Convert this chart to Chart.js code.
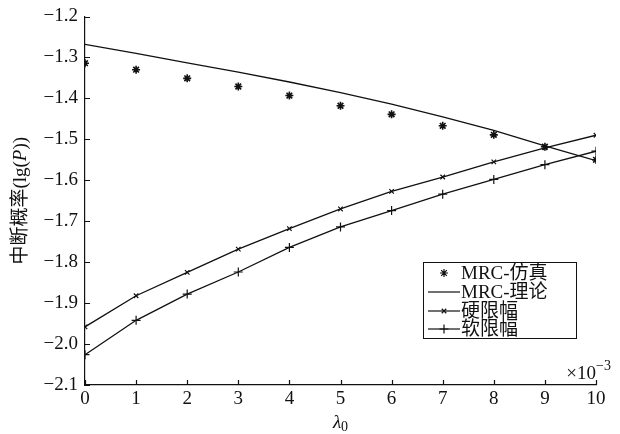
<!DOCTYPE html>
<html><head><meta charset="utf-8">
<script src="https://cdn.jsdelivr.net/npm/chart.js@4/dist/chart.umd.min.js"></script>
<style>html,body{margin:0;padding:0;background:#fff}#c{display:block}</style>
</head><body>
<canvas id="c" width="620" height="434"></canvas>
<script>
// ---- data ----
const lambda0 = [0, 1, 2, 3, 4, 5, 6, 7, 8, 9, 10];
const mrcSim = [-1.314, -1.330, -1.351, -1.371, -1.393, -1.418, -1.439, -1.467, -1.489, -1.518, -1.550];
const mrcTheory = [-1.268, -1.290, -1.313, -1.336, -1.360, -1.386, -1.414, -1.445, -1.478, -1.516, -1.552];
const hardLimiter = [-1.958, -1.882, -1.825, -1.768, -1.718, -1.670, -1.627, -1.592, -1.555, -1.521, -1.490];
const softLimiter = [-2.026, -1.942, -1.878, -1.824, -1.764, -1.714, -1.674, -1.634, -1.598, -1.562, -1.529];
const seriesNames = ['MRC-仿真', 'MRC-理论', '硬限幅', '软限幅'];
const xTicks = [0, 1, 2, 3, 4, 5, 6, 7, 8, 9, 10];
const yTicks = [-2.1, -2.0, -1.9, -1.8, -1.7, -1.6, -1.5, -1.4, -1.3, -1.2];
const yTitleParts = [['中断概率(lg(', false], ['P', true], ['))', false]];
const xTitleMain = 'λ';
const xTitleSub = '0';
const xExpBase = '×10';
const xExpPow = '−3';

const SERIF = '"Liberation Serif", "Times New Roman", "Noto Sans CJK SC", serif';
const INK = '#111';

const pts = arr => lambda0.map((x, i) => ({x, y: arr[i]}));

const decorPlugin = {
  id: 'decor',
  afterDraw(chart) {
    const {ctx, chartArea: a, scales: {x, y}} = chart;
    ctx.save();
    // inward tick marks
    ctx.strokeStyle = INK; ctx.lineWidth = 1.2;
    ctx.beginPath();
    yTicks.forEach(v => { const py = Math.round(y.getPixelForValue(v)) + 0.5; ctx.moveTo(a.left, py); ctx.lineTo(a.left + 5, py); });
    xTicks.forEach(v => { const px = Math.round(x.getPixelForValue(v)) + 0.5; ctx.moveTo(px, a.bottom); ctx.lineTo(px, a.bottom - 5); });
    ctx.stroke();

    ctx.fillStyle = INK;
    // y title (rotated, mixed italic)
    ctx.save();
    ctx.translate(21, (a.top + a.bottom) / 2);
    ctx.rotate(-Math.PI / 2);
    ctx.textBaseline = 'middle';
    let total = 0;
    const fnt = it => (it ? 'italic ' : '') + '19px ' + SERIF;
    yTitleParts.forEach(([t, it]) => { ctx.font = fnt(it); total += ctx.measureText(t).width; });
    let cx = -total / 2;
    ctx.textAlign = 'left';
    yTitleParts.forEach(([t, it]) => { ctx.font = fnt(it); ctx.fillText(t, cx, 0); cx += ctx.measureText(t).width; });
    ctx.restore();

    // x title λ0
    const xc = (a.left + a.right) / 2;
    ctx.textBaseline = 'alphabetic';
    ctx.font = 'italic 19px ' + SERIF;
    const w1 = ctx.measureText(xTitleMain).width;
    ctx.font = '14px ' + SERIF;
    const w2 = ctx.measureText(xTitleSub).width;
    let sx = xc - (w1 + w2) / 2;
    ctx.font = 'italic 19px ' + SERIF;
    ctx.textAlign = 'left';
    ctx.fillText(xTitleMain, sx, 428);
    ctx.font = '14px ' + SERIF;
    ctx.fillText(xTitleSub, sx + w1, 431);

    // exponent ×10^-3
    ctx.font = '19px ' + SERIF;
    const wb = ctx.measureText(xExpBase).width;
    ctx.textAlign = 'left';
    ctx.fillText(xExpBase, a.right - wb, 379);
    ctx.font = '14px ' + SERIF;
    ctx.fillText(xExpPow, a.right, 370);

    // legend
    const lx = 423, ly = 262, lw = 153, lh = 76;
    ctx.fillStyle = '#fff';
    ctx.fillRect(lx, ly, lw, lh);
    ctx.strokeStyle = INK; ctx.lineWidth = 1;
    ctx.strokeRect(lx + 0.5, ly + 0.5, lw, lh);
    ctx.fillStyle = INK;
    ctx.font = '19px ' + SERIF;
    ctx.textBaseline = 'middle';
    const rows = [273, 292, 311, 329];
    chart.data.datasets.forEach((ds, i) => {
      const ry = rows[i];
      ctx.strokeStyle = INK; ctx.lineWidth = 1.2;
      if (ds.showLine !== false) {
        ctx.beginPath(); ctx.moveTo(lx + 5, ry); ctx.lineTo(lx + 37, ry); ctx.stroke();
      }
      if (ds.pointRadius > 0) {
        ctx.fillStyle = INK;
        Chart.helpers.drawPoint(ctx, {pointStyle: ds.pointStyle, radius: ds.pointRadius, rotation: 0, borderWidth: ds.pointBorderWidth}, lx + 21, ry);
      }
      ctx.fillStyle = INK;
      ctx.fillText(seriesNames[i], lx + 38, ry + 1);
    });
    ctx.restore();
  }
};

new Chart(document.getElementById('c'), {
  type: 'line',
  data: {
    datasets: [
      {label: seriesNames[0], data: pts(mrcSim), showLine: false, pointStyle: 'star', pointRadius: 4, pointBorderWidth: 1.6, borderColor: INK, backgroundColor: INK},
      {label: seriesNames[1], data: pts(mrcTheory), pointRadius: 0, borderWidth: 1.3, borderColor: INK},
      {label: seriesNames[2], data: pts(hardLimiter), pointStyle: 'crossRot', pointRadius: 3.2, pointBorderWidth: 1.2, borderWidth: 1.3, borderColor: INK, backgroundColor: INK},
      {label: seriesNames[3], data: pts(softLimiter), pointStyle: 'cross', pointRadius: 4.5, pointBorderWidth: 1.2, borderWidth: 1.3, borderColor: INK, backgroundColor: INK}
    ]
  },
  options: {
    responsive: false,
    animation: false,
    layout: {padding: {top: 10, right: 24, left: 0, bottom: 0}},
    plugins: {legend: {display: false}, tooltip: {enabled: false}},
    elements: {line: {tension: 0}},
    scales: {
      x: {
        type: 'linear', min: 0, max: 10,
        afterBuildTicks: s => { s.ticks = xTicks.map(v => ({value: v})); },
        afterFit: s => { s.height = 49; },
        grid: {display: true, drawOnChartArea: false, drawTicks: false},
        border: {display: true, color: INK, width: 1.2},
        ticks: {color: INK, padding: 5, maxRotation: 0, font: {family: SERIF, size: 19, lineHeight: 1}, callback: v => String(v)}
      },
      y: {
        min: -2.1, max: -1.2,
        afterBuildTicks: s => { s.ticks = yTicks.map(v => ({value: v})); },
        afterFit: s => { s.width = 85; },
        grid: {display: true, drawOnChartArea: false, drawTicks: false},
        border: {display: true, color: INK, width: 1.2},
        ticks: {color: INK, padding: 7, font: {family: SERIF, size: 19, lineHeight: 1}, callback: v => '−' + Math.abs(v).toFixed(1)}
      }
    }
  },
  plugins: [decorPlugin]
});
</script>
</body></html>
